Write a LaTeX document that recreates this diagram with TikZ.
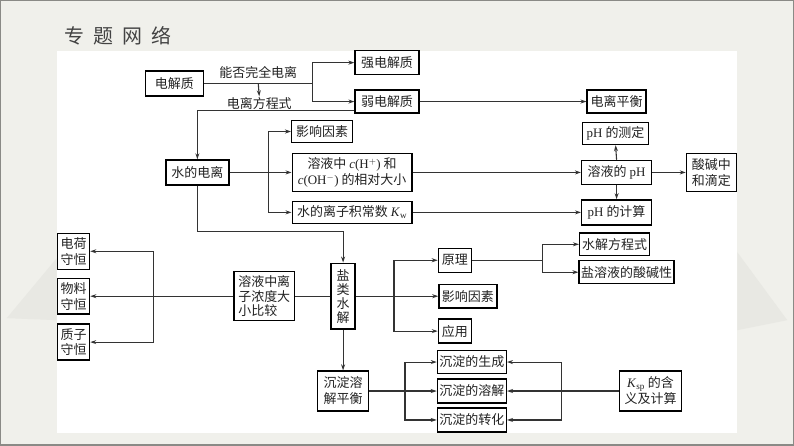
\documentclass[tikz,border=0pt]{standalone}
\usepackage{fontspec}
\setmainfont{Liberation Serif}
\newfontfamily\cjk{Noto Sans CJK SC}
\usetikzlibrary{arrows.meta,calc}
\definecolor{paper}{HTML}{F0F0EB}
\definecolor{wash}{HTML}{E8E8E3}
\definecolor{ink}{HTML}{222222}
\definecolor{wire}{HTML}{333333}
\definecolor{rim}{HTML}{8A8A86}
\newcommand\lt[1]{{\rmfamily #1}}
\tikzset{
  box/.style={draw=black, line width=1.4pt, fill=white, text=ink, inner xsep=2pt, inner ysep=1pt,
    align=center, font=\cjk\fontsize{13}{16}\selectfont},
  lab/.style={text=ink, inner sep=1pt, font=\cjk\fontsize{13}{15}\selectfont},
  title/.style={text=ink!85, inner sep=0pt, font=\cjk\fontsize{20}{24}\selectfont},
  link/.style={draw=wire, line width=1.1pt},
  arr/.style={link, -{Stealth[length=6pt,width=4pt]}},
  frame/.style={draw=rim, line width=1.5pt},
}
\begin{document}
\begin{tikzpicture}[x=1pt,y=-1pt]
  % page
  \fill[paper] (0,0) rectangle (794,445);
  \fill[wash] (6,318) -- (56,258) -- (56,320) -- cycle;
  \fill[wash] (738,252) -- (788,320) -- (738,330) -- cycle;
  \fill[white] (56,50) rectangle (738,433);
  \draw[frame] (0,0) rectangle (794,445);
  \useasboundingbox (0,0) rectangle (794,445);
  \node[title,anchor=west] (head) at (64,35) {专\hspace{9pt}题\hspace{9pt}网\hspace{9pt}络};

  % electrolytes
  \node[box,minimum width=58pt,minimum height=25pt] (elec) at (174,83) {电解质};
  \node[box,minimum width=64pt,minimum height=24pt] (strong) at (387,62) {强电解质};
  \node[box,minimum width=64pt,minimum height=23pt] (weak) at (387,101) {弱电解质};
  \node[box,minimum width=59pt,minimum height=23pt] (eqbm) at (617,101) {电离平衡};
  \node[lab] (ask) at (258,72) {能否完全电离};
  \node[lab] (eqn) at (259,103) {电离方程式};
  \coordinate (s1) at (312,83);
  \coordinate (eqtap) at (258,83);

  \draw[link] (elec.east) -- (s1);
  \draw[arr] (s1) |- (strong.west);
  \draw[arr] (s1) |- (weak.west);
  \draw[arr] (eqtap) -- (eqn.north);
  \draw[arr] (weak.east) -- (eqbm.west);

  % water and pH
  \node[box,minimum width=63pt,minimum height=25pt] (water) at (197,172) {水的电离};
  \node[box,minimum width=61pt,minimum height=22pt] (factA) at (322,131) {影响因素};
  \node[box,minimum width=120pt,minimum height=38pt] (conc) at (352,172)
    {溶液中 \lt{\textit{c}(H$^{+}$)} 和\\\lt{\textit{c}(OH$^{-}$)} 的相对大小};
  \node[box,minimum width=120pt,minimum height=22pt] (kw) at (352,212)
    {水的离子积常数 \lt{\textit{K}\textsubscript{w}}};
  \node[box,minimum width=66pt,minimum height=22pt] (phmeas) at (616,133) {\lt{pH} 的测定};
  \node[box,minimum width=70pt,minimum height=24pt] (phsol) at (617,172) {溶液的 \lt{pH}};
  \node[box,minimum width=70pt,minimum height=25pt] (phcalc) at (617,212) {\lt{pH} 的计算};
  \node[box,minimum width=50pt,minimum height=38pt] (titr) at (712,172) {酸碱中\\和滴定};
  \coordinate (s2) at (268,172);

  \draw[arr] ([yshift=-9pt]weak.west) -| (water.north);
  \draw[arr] (water.east) -- (conc.west);
  \draw[arr] (s2) |- (factA.west);
  \draw[arr] (s2) |- (kw.west);
  \draw[arr] (conc.east) -- (phsol.west);
  \draw[arr] (kw.east) -- (phcalc.west);
  \draw[arr] (phsol.north) -- (phmeas.south);
  \draw[arr] (phsol.south) -- (phcalc.north);
  \draw[arr] (phsol.east) -- (titr.west);

  % salt hydrolysis
  \node[box,minimum width=24pt,minimum height=66pt,font=\cjk\fontsize{13}{14}\selectfont] (salt) at (343,296) {盐\\类\\水\\解};
  \node[box,minimum width=61pt,minimum height=49pt,align=left,font=\cjk\fontsize{13}{14.5}\selectfont] (ionc) at (264,296) {溶液中离\\子浓度大\\小比较};
  \node[box,minimum width=32pt,minimum height=36pt] (charge) at (73,251) {电荷\\守恒};
  \node[box,minimum width=32pt,minimum height=36pt] (mass) at (73,296) {物料\\守恒};
  \node[box,minimum width=32pt,minimum height=36pt] (proton) at (73,342) {质子\\守恒};
  \node[box,minimum width=33pt,minimum height=24pt] (prin) at (455,260) {原理};
  \node[box,minimum width=58pt,minimum height=24pt] (factB) at (468,296) {影响因素};
  \node[box,minimum width=33pt,minimum height=24pt] (appl) at (455,331) {应用};
  \node[box,minimum width=70pt,minimum height=23pt] (hyeq) at (615,244) {水解方程式};
  \node[box,minimum width=95pt,minimum height=23pt] (acid) at (627,272) {盐溶液的酸碱性};
  \coordinate (s3) at (153,296);
  \coordinate (s4) at (394,296);
  \coordinate (s5) at (543,260);

  \draw[arr] (water.south) -- ++(0,46) -| (salt.north);
  \draw[link] (salt.west) -- (ionc.east);
  \draw[link] (ionc.west) -- (s3);
  \draw[arr] (s3) |- (charge.east);
  \draw[arr] (s3) -- (mass.east);
  \draw[arr] (s3) |- (proton.east);
  \draw[link] (salt.east) -- (s4);
  \draw[arr] (s4) |- (prin.west);
  \draw[arr] (s4) -- (factB.west);
  \draw[arr] (s4) |- (appl.west);
  \draw[link] (prin.east) -- (s5);
  \draw[arr] (s5) |- (hyeq.west);
  \draw[arr] (s5) |- (acid.west);

  % precipitation
  \node[box,minimum width=51pt,minimum height=40pt] (prec) at (343,391) {沉淀溶\\解平衡};
  \node[box,minimum width=69pt,minimum height=23pt] (form) at (472,362) {沉淀的生成};
  \node[box,minimum width=69pt,minimum height=24pt] (diss) at (472,391) {沉淀的溶解};
  \node[box,minimum width=69pt,minimum height=24pt] (conv) at (472,420) {沉淀的转化};
  \node[box,minimum width=62pt,minimum height=40pt] (ksp) at (651,391)
    {\lt{\textit{K}\textsubscript{sp}} 的含\\义及计算};
  \coordinate (s6) at (405,391);
  \coordinate (s7) at (562,391);

  \draw[arr] (salt.south) -- (prec.north);
  \draw[arr] (prec.east) -- (diss.west);
  \draw[arr] (s6) |- (form.west);
  \draw[arr] (s6) |- (conv.west);
  \draw[arr] (ksp.west) -- (diss.east);
  \draw[arr] (s7) |- (form.east);
  \draw[arr] (s7) |- (conv.east);
\end{tikzpicture}
\end{document}
